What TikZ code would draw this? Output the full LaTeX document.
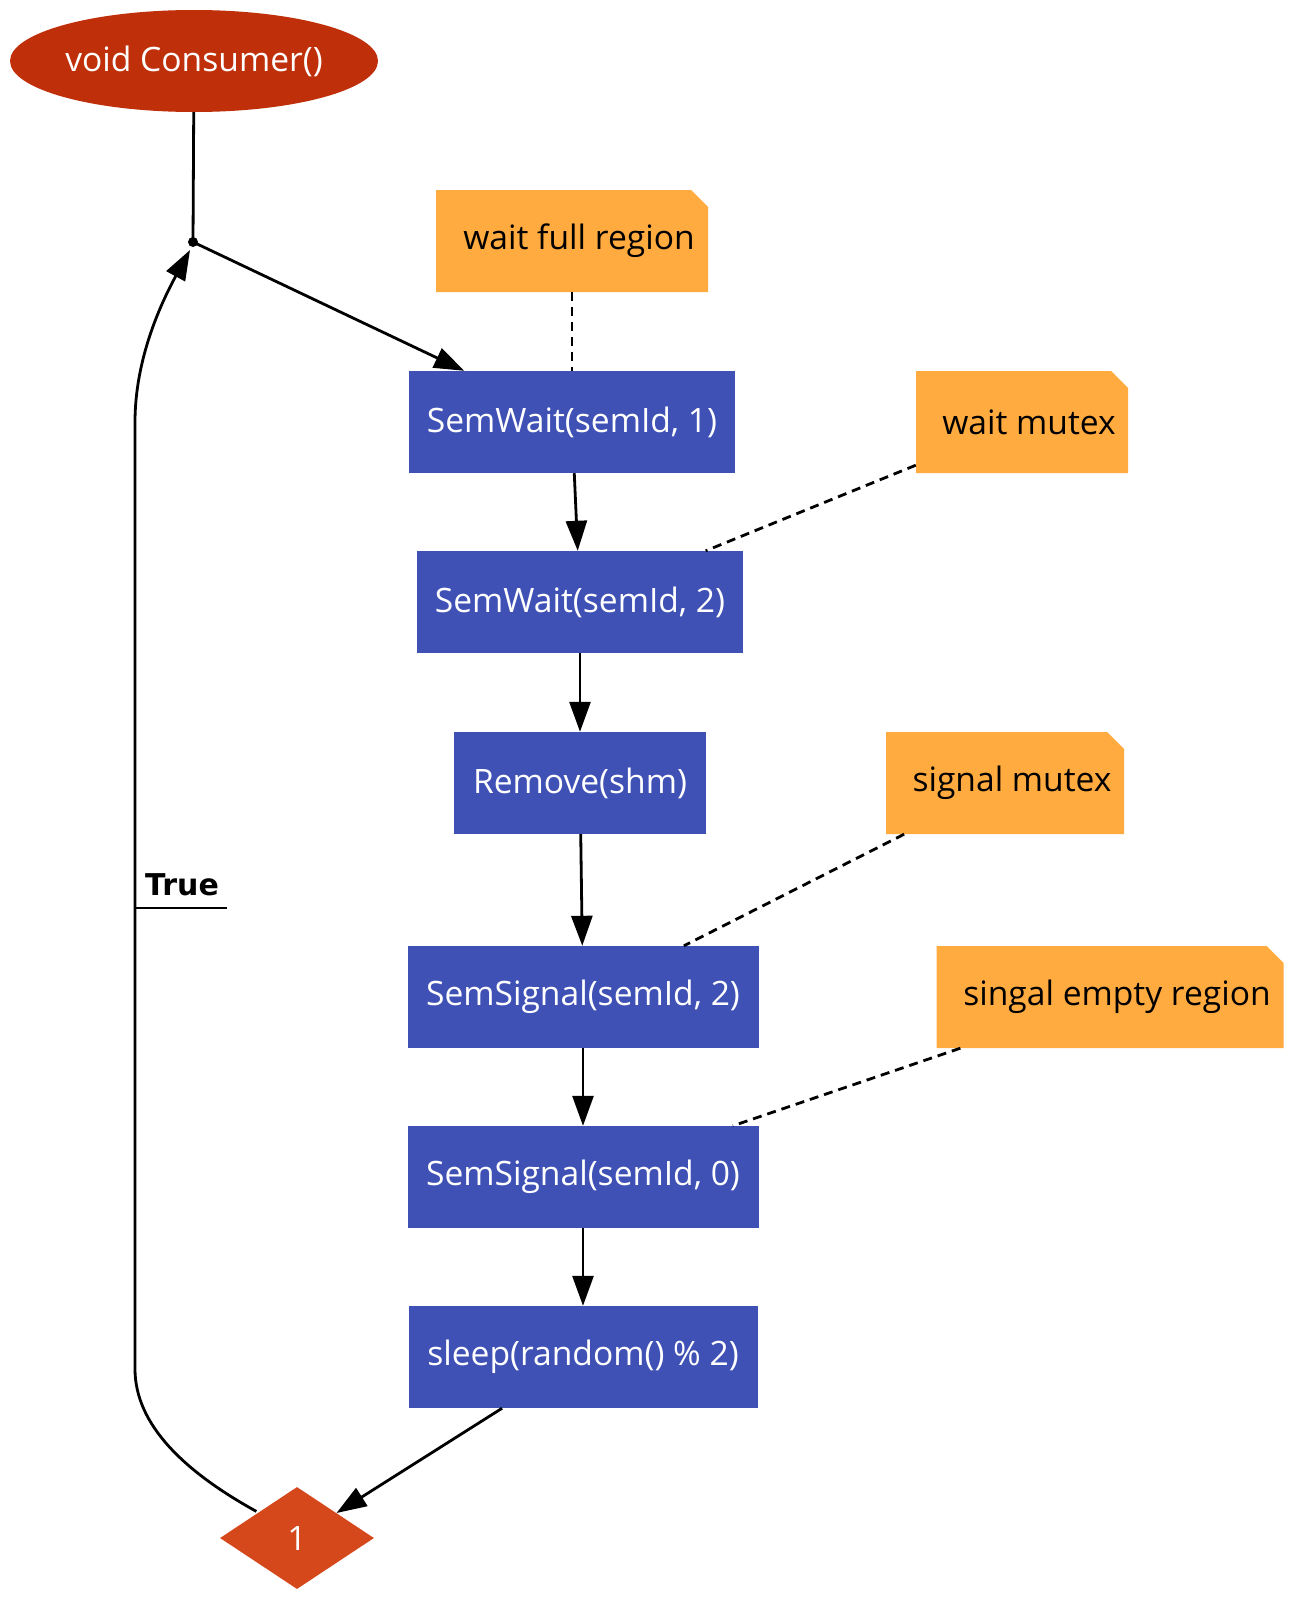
\documentclass[tikz,border=0pt]{standalone}
\usepackage{fontspec}
\setmainfont{Open Sans}
\newfontfamily\truefont{DejaVu Sans}
\usetikzlibrary{shapes.geometric,arrows.meta}
\definecolor{startcol}{HTML}{BF300A}
\definecolor{boxcol}{HTML}{3F51B5}
\definecolor{notecol}{HTML}{FFAB40}
\definecolor{deccol}{HTML}{D4481C}
\begin{document}
\begin{tikzpicture}[x=1pt,y=-1pt,
  txt/.style={font=\fontsize{33.6}{40}\selectfont},
  stepbox/.style={txt, rectangle, fill=boxcol, text=white, inner sep=0, minimum height=102},
  notebox/.style={txt, rectangle, inner sep=0, minimum height=102, text=black,
    path picture={\fill[notecol] (path picture bounding box.south west) -- (path picture bounding box.north west)
      -- ([xshift=-17pt]path picture bounding box.north east) -- ([yshift=-17pt]path picture bounding box.north east)
      -- (path picture bounding box.south east) -- cycle;}},
  edge/.style={line width=2.8pt, -{Triangle[length=30pt,width=21pt]}},
  link/.style={line width=2.8pt, dash pattern=on 9pt off 6pt}
]
\useasboundingbox (0,0) rectangle (1308,1614);

\node[txt, ellipse, fill=startcol, text=white, minimum width=368, minimum height=102, inner sep=0] (start) at (194,61) {void Consumer()};
\coordinate (j) at (193,242);
\fill (j) circle (5);

\node[stepbox, minimum width=326] (w1) at (572,422) {SemWait(semId, 1)};
\node[stepbox, minimum width=326] (w2) at (580,602) {SemWait(semId, 2)};
\node[stepbox, minimum width=252] (rm) at (580,783) {Remove(shm)};
\node[stepbox, minimum width=351] (s2) at (583,997) {SemSignal(semId, 2)};
\node[stepbox, minimum width=351] (s0) at (583,1177) {SemSignal(semId, 0)};
\node[stepbox, minimum width=349] (sl) at (583,1357) {sleep(random() \% 2)};
\node[txt, diamond, fill=deccol, text=white, minimum width=154, minimum height=102, aspect=1.5, inner sep=0] (dec) at (297,1538) {1};

\node[notebox, minimum width=272] (n1) at (572,241) {\hspace{14pt}wait full region};
\node[notebox, minimum width=212] (n2) at (1022,422) {\hspace{14pt}wait mutex};
\node[notebox, minimum width=238] (n3) at (1005,783) {\hspace{14pt}signal mutex};
\node[notebox, minimum width=347] (n4) at (1110,997) {\hspace{14pt}singal empty region};

\draw[line width=2.8pt] (start) -- (j);
\draw[edge] (j) -- (w1);
\draw[edge] (w1) -- (w2);
\draw[edge] (w2) -- (rm);
\draw[edge] (rm) -- (s2);
\draw[edge] (s2) -- (s0);
\draw[edge] (s0) -- (sl);
\draw[edge] (sl) -- (dec);
\coordinate (b1) at (135,1369);
\coordinate (b2) at (135,422);
\coordinate (jt) at (190,250);
\draw[edge] (dec.north west) ++(-2,-1) .. controls (185,1472) and (135,1425) .. (b1) -- (b2) .. controls (135,360) and (160,305) .. (jt);

\node[font=\truefont\bfseries\fontsize{30}{36}\selectfont, anchor=base west, inner sep=0] (lbl) at (145,895) {True};
\draw[line width=2.8pt] (135,908) -- (227,908);

\draw[link] (n1) -- (w1);
\draw[link] (n2) -- (w2);
\draw[link] (n3) -- (s2);
\draw[link] (n4) -- (s0);
\end{tikzpicture}
\end{document}
